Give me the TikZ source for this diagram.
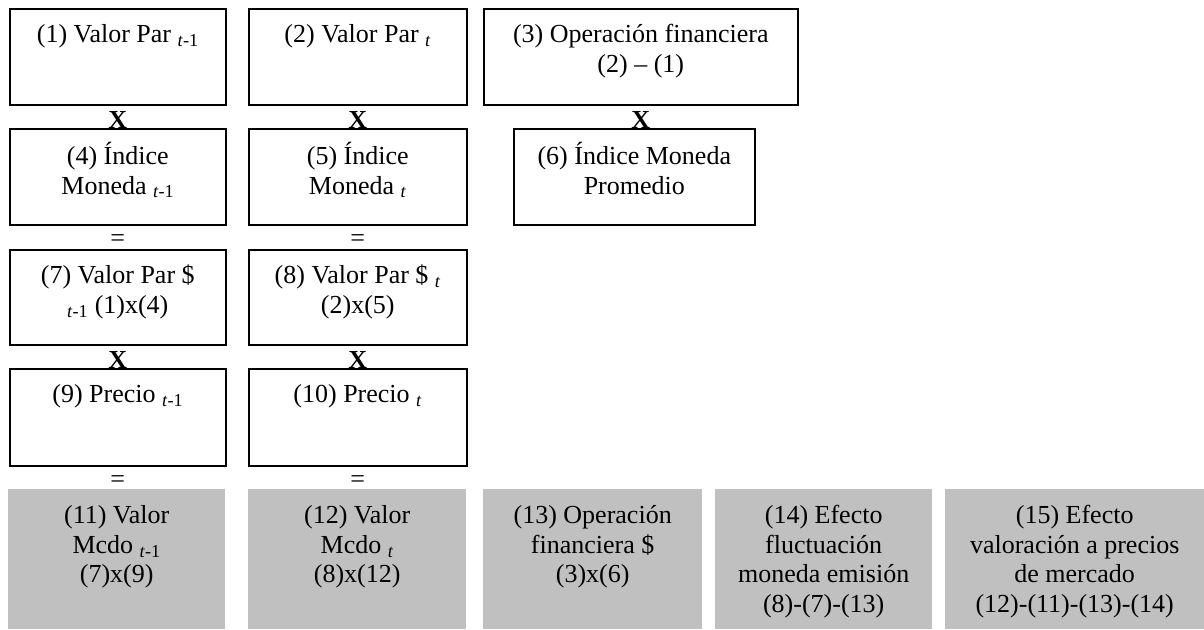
\documentclass[tikz,border=0pt]{standalone}
\usepackage{fontspec}
\setmainfont{Liberation Serif}
\definecolor{cellgray}{HTML}{C0C0C0}

\begin{document}
\begin{tikzpicture}[x=1pt,y=-1pt]
    \tikzstyle{cell}=[rectangle, anchor=north west, inner sep=0pt]
    \tikzstyle{frame}=[cell, draw, line width=1.6pt]
    \tikzstyle{shade}=[cell, fill=cellgray]
    \tikzstyle{txt}=[anchor=north, align=center, inner sep=0pt, yshift=-14pt, font=\fontsize{26}{29.5}\selectfont]
    \tikzstyle{op}=[anchor=base, inner sep=0pt, font=\fontsize{26}{29.5}\selectfont]
    \useasboundingbox (0,0) rectangle (1204,629);
    % first row
    \node[frame, minimum width=216, minimum height=96,
      label={[txt]north:{\strut(1) Valor Par \textsubscript{\textit{t}-1}}}] (parprev) at (9,8) {};
    \node[frame, minimum width=218, minimum height=96,
      label={[txt]north:{\strut(2) Valor Par \textsubscript{\textit{t}}}}] (parcur) at (248,8) {};
    \node[frame, minimum width=314, minimum height=96,
      label={[txt]north:{\strut(3) Operación financiera\\(2) – (1)}}] (opfin) at (483,8) {};
    % second row
    \node[frame, minimum width=216, minimum height=96,
      label={[txt]north:{\strut(4) Índice\\Moneda \textsubscript{\textit{t}-1}}}] (monprev) at (9,128) {};
    \node[frame, minimum width=218, minimum height=96,
      label={[txt]north:{\strut(5) Índice\\Moneda \textsubscript{\textit{t}}}}] (moncur) at (248,128) {};
    \node[frame, minimum width=241, minimum height=96,
      label={[txt]north:{\strut(6) Índice Moneda\\Promedio}}] (monavg) at (513,128) {};
    % third row
    \node[frame, minimum width=216, minimum height=95,
      label={[txt]north:{\strut(7) Valor Par \$\\\textsubscript{\textit{t}-1} (1)x(4)}}] (pesoprev) at (9,249) {};
    \node[frame, minimum width=218, minimum height=95,
      label={[txt]north:{\strut(8) Valor Par \$ \textsubscript{\textit{t}}\\(2)x(5)}}] (pesocur) at (248,249) {};
    % fourth row
    \node[frame, minimum width=216, minimum height=97,
      label={[txt]north:{\strut(9) Precio \textsubscript{\textit{t}-1}}}] (precprev) at (9,368) {};
    \node[frame, minimum width=218, minimum height=97,
      label={[txt]north:{\strut(10) Precio \textsubscript{\textit{t}}}}] (preccur) at (248,368) {};
    % results
    \node[shade, minimum width=217, minimum height=140,
      label={[txt]north:{\strut(11) Valor\\Mcdo \textsubscript{\textit{t}-1}\\(7)x(9)}}] (mcdoprev) at (8,489) {};
    \node[shade, minimum width=218, minimum height=140,
      label={[txt]north:{\strut(12) Valor\\Mcdo \textsubscript{\textit{t}}\\(8)x(12)}}] (mcdocur) at (248,489) {};
    \node[shade, minimum width=219, minimum height=140,
      label={[txt]north:{\strut(13) Operación\\financiera \$\\(3)x(6)}}] (opfinpeso) at (483,489) {};
    \node[shade, minimum width=217, minimum height=140,
      label={[txt]north:{\strut(14) Efecto\\fluctuación\\moneda emisión\\(8)-(7)-(13)}}] (fluct) at (715,489) {};
    \node[shade, minimum width=259, minimum height=140,
      label={[txt]north:{\strut(15) Efecto\\valoración a precios\\de mercado\\(12)-(11)-(13)-(14)}}] (valmer) at (945,489) {};
    % operators
    \node[op] (xa) at (parprev.south |- monprev.north) {\textbf{X}};
    \node[op] (xb) at (parcur.south |- moncur.north) {\textbf{X}};
    \node[op] (xc) at (opfin.south |- monavg.north) {\textbf{X}};
    \node[op, yshift=3pt] (eqa) at (monprev.south |- pesoprev.north) {=};
    \node[op, yshift=3pt] (eqb) at (moncur.south |- pesocur.north) {=};
    \node[op] (xd) at (pesoprev.south |- precprev.north) {\textbf{X}};
    \node[op] (xe) at (pesocur.south |- preccur.north) {\textbf{X}};
    \node[op, yshift=2pt] (eqc) at (precprev.south |- mcdoprev.north) {=};
    \node[op, yshift=2pt] (eqd) at (preccur.south |- mcdocur.north) {=};
\end{tikzpicture}
\end{document}
